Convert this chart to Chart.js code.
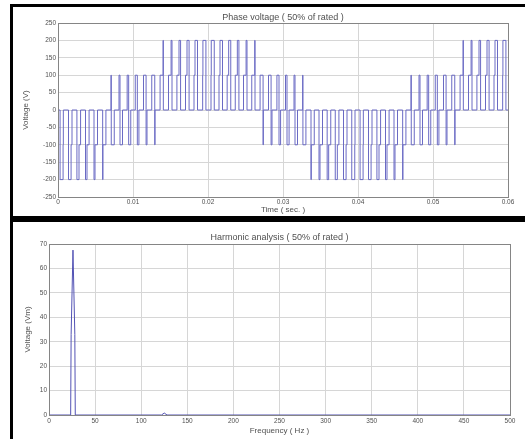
<!DOCTYPE html>
<html>
<head>
<meta charset="utf-8">
<script src="https://cdn.jsdelivr.net/npm/chart.js@4.4.1/dist/chart.umd.min.js"></script>
<style>
  body { margin: 0; background: #fff; }
  #page { position: relative; width: 525px; height: 439px; overflow: hidden; background: #fff; }
  .bar { position: absolute; background: #000; }
  .box { position: absolute; }
</style>
</head>
<body>
<div id="page">
  <div class="bar" style="left:10px;top:4px;width:515px;height:3px"></div>
  <div class="bar" style="left:10px;top:4px;width:3px;height:435px"></div>
  <div class="bar" style="left:10px;top:216px;width:515px;height:6px"></div>
  <div class="box" style="left:13px;top:7px"><canvas id="voltChart" width="512" height="209"></canvas></div>
  <div class="box" style="left:13px;top:222px"><canvas id="fftChart" width="512" height="217"></canvas></div>
</div>
<script>
// Phase voltage: 54 carrier cycles over 0..60 ms
const cycleMs = 60 / 54;
// where the legs switch off inside each cycle (fraction of the cycle)
const offFirst = [0.25, 0.26, 0.27, 0.30, 0.32, 0.36, 0.36, 0.32, 0.30, 0.27, 0.26, 0.25,
  0.25, 0.26, 0.27, 0.30, 0.32, 0.36, 0.36, 0.32, 0.30, 0.27, 0.26, 0.25,
  0.25, 0.26, 0.27, 0.30, 0.32, 0.36, 0.36, 0.32, 0.30, 0.27, 0.26, 0.25,
  0.25, 0.26, 0.27, 0.30, 0.32, 0.36, 0.36, 0.32, 0.30, 0.27, 0.26, 0.25,
  0.25, 0.26, 0.27, 0.30, 0.32, 0.36];
const offSecond = [0.61, 0.57, 0.52, 0.48, 0.44, 0.39, 0.39, 0.44, 0.48, 0.52, 0.57, 0.61,
  0.61, 0.57, 0.52, 0.48, 0.44, 0.39, 0.39, 0.44, 0.48, 0.52, 0.57, 0.61,
  0.61, 0.57, 0.52, 0.48, 0.44, 0.39, 0.39, 0.44, 0.48, 0.52, 0.57, 0.61,
  0.61, 0.57, 0.52, 0.48, 0.44, 0.39, 0.39, 0.44, 0.48, 0.52, 0.57, 0.61,
  0.61, 0.57, 0.52, 0.48, 0.44, 0.39];
const offThird = [0.64, 0.68, 0.71, 0.73, 0.74, 0.75, 0.75, 0.74, 0.73, 0.71, 0.68, 0.64,
  0.64, 0.68, 0.71, 0.73, 0.74, 0.75, 0.75, 0.74, 0.73, 0.71, 0.68, 0.64,
  0.64, 0.68, 0.71, 0.73, 0.74, 0.75, 0.75, 0.74, 0.73, 0.71, 0.68, 0.64,
  0.64, 0.68, 0.71, 0.73, 0.74, 0.75, 0.75, 0.74, 0.73, 0.71, 0.68, 0.64,
  0.64, 0.68, 0.71, 0.73, 0.74, 0.75];
// voltage level after the first and the second switching (V)
const levelFirst = [-200, -200, -200, -200, -200, -200, 100, 100, 100, 100, 100, 100,
  100, 100, 100, 100, 100, 100, 100, 100, 100, 100, 100, 100,
  100, 100, 100, 100, 100, 100, -200, -200, -200, -200, -200, -200,
  -200, -200, -200, -200, -200, -200, 100, 100, 100, 100, 100, 100,
  100, 100, 100, 100, 100, 100];
const levelSecond = [-100, -100, -100, -100, -100, -100, -100, -100, -100, -100, -100, -100,
  200, 200, 200, 200, 200, 200, 200, 200, 200, 200, 200, 200,
  -100, -100, -100, -100, -100, -100, -100, -100, -100, -100, -100, -100,
  -100, -100, -100, -100, -100, -100, -100, -100, -100, -100, -100, -100,
  200, 200, 200, 200, 200, 200];

const timeTicks = [0, 0.01, 0.02, 0.03, 0.04, 0.05, 0.06];
const timeLabels = ["0", "0.01", "0.02", "0.03", "0.04", "0.05", "0.06"];
const voltTicks = [-250, -200, -150, -100, -50, 0, 50, 100, 150, 200, 250];

// Harmonic spectrum
const freqHz = [0, 23.5, 24, 26, 28, 28.5, 122, 125, 128, 500];
const magVm = [0, 0, 33, 67.5, 33, 0, 0, 0.8, 0, 0];
const freqTicks = [0, 50, 100, 150, 200, 250, 300, 350, 400, 450, 500];
const magTicks = [0, 10, 20, 30, 40, 50, 60, 70];

const fam = "'Liberation Sans', Arial, sans-serif";
const txt = "#505050";
const gridCol = "#d6d6d6";

//monta os degraus da tensao
const voltPoints = [{ x: 0, y: 0 }];
for (let k = 0; k < offFirst.length; k++) {
  const t0 = k * cycleMs;
  voltPoints.push({ x: (t0 + offFirst[k] * cycleMs) / 1000, y: levelFirst[k] });
  voltPoints.push({ x: (t0 + offSecond[k] * cycleMs) / 1000, y: levelSecond[k] });
  voltPoints.push({ x: (t0 + offThird[k] * cycleMs) / 1000, y: 0 });
}
voltPoints.push({ x: 0.06, y: 0 });

const fftPoints = freqHz.map((f, i) => ({ x: f, y: magVm[i] }));

// box around the plot area
const frame = {
  id: "frame",
  afterDatasetsDraw(chart) {
    const a = chart.chartArea;
    const ctx = chart.ctx;
    ctx.save();
    ctx.strokeStyle = "#858585";
    ctx.lineWidth = 1;
    ctx.strokeRect(Math.round(a.left) + 0.5, Math.round(a.top) + 0.5,
      Math.round(a.right - a.left), Math.round(a.bottom - a.top));
    ctx.restore();
  },
};

const axis = (ticks, labels, title, titlePad) => ({
  type: "linear",
  min: ticks[0],
  max: ticks[ticks.length - 1],
  afterBuildTicks: (s) => { s.ticks = ticks.map((v) => ({ value: v })); },
  ticks: {
    autoSkip: false, maxRotation: 0, padding: 2, color: txt,
    font: { family: fam, size: 6.5 },
    callback: (v, i) => labels[i],
  },
  grid: { color: gridCol, drawTicks: false },
  border: { display: false },
  title: { display: true, text: title, color: txt, padding: titlePad, font: { family: fam, size: 8, lineHeight: 1.2 } },
});

const grafico = (id, points, xAx, yAx, titulo, titlePad, right) => {
  return new Chart(document.getElementById(id), {
    type: "line",
    data: {
      datasets: [{
        data: points,
        stepped: id === "voltChart",
        borderColor: id === "voltChart" ? "#6a6ac4" : "#5252b4",
        borderWidth: 1,
        pointRadius: 0,
        fill: false,
      }],
    },
    options: {
      responsive: false,
      animation: false,
      layout: { padding: { left: 0, right: right, top: 0, bottom: 0 } },
      plugins: {
        legend: { display: false },
        tooltip: { enabled: false },
        title: {
          display: true, text: titulo, fullSize: false, color: txt,
          font: { family: fam, size: 9, lineHeight: 1.2, weight: "normal" },
          padding: titlePad,
        },
      },
      scales: { x: xAx, y: yAx },
    },
    plugins: [frame],
  });
};

const xV = axis(timeTicks, timeLabels, "Time ( sec. )", { top: 0, bottom: 1.5 });
xV.afterFit = (s) => { s.height = 19; };
xV.ticks.padding = 1;
const yV = axis(voltTicks, voltTicks.map(String), "Voltage (V)", { top: 8, bottom: 0 });
yV.afterFit = (s) => { s.width = 45; };
grafico("voltChart", voltPoints, xV, yV, "Phase voltage ( 50% of rated )", { top: 5, bottom: 0.2 }, 17);

const xF = axis(freqTicks, freqTicks.map(String), "Frequency ( Hz )", { top: 0, bottom: 3 });
xF.afterFit = (s) => { s.height = 24; };
xF.ticks.padding = 2;
const yF = axis(magTicks, magTicks.map(String), "Voltage (Vm)", { top: 10, bottom: 0 });
yF.afterFit = (s) => { s.width = 36; };
grafico("fftChart", fftPoints, xF, yF, "Harmonic analysis ( 50% of rated )", { top: 10, bottom: 1.2 }, 15);
</script>
</body>
</html>
